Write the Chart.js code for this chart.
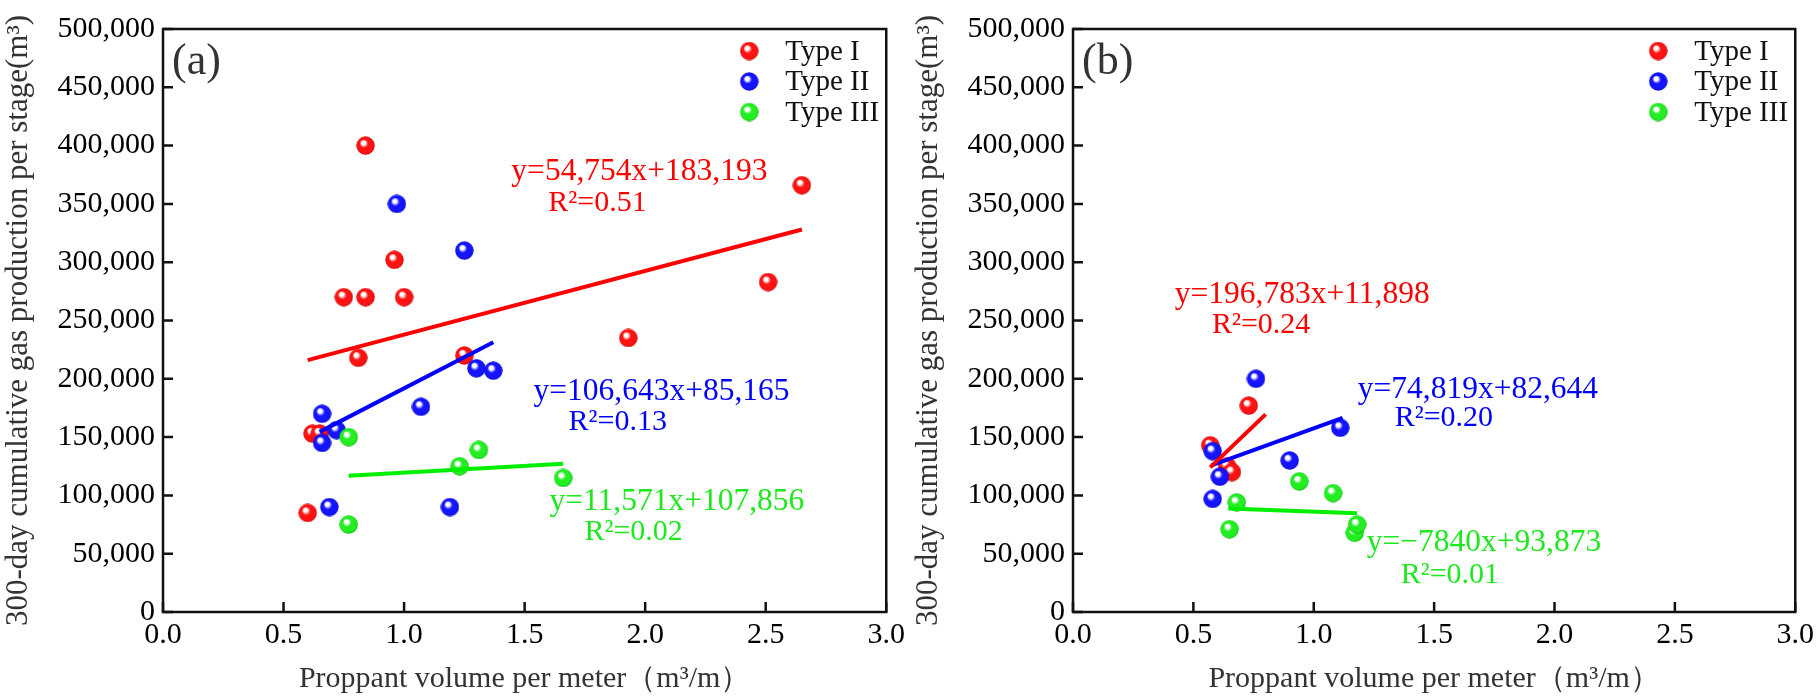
<!DOCTYPE html>
<html>
<head>
<meta charset="utf-8">
<script src="https://cdn.jsdelivr.net/npm/chart.js@4.4.1/dist/chart.umd.min.js"></script>
<style>
  html, body { margin: 0; padding: 0; background: #fff; }
  #wrap { position: relative; width: 1819px; height: 697px; background: #fff; }
  #wrap canvas { position: absolute; top: 0; }
  #chartA { left: 0; }
  #chartB { left: 910px; }
</style>
</head>
<body>
<div id="wrap">
  <canvas id="chartA" width="910" height="697"></canvas>
  <canvas id="chartB" width="909" height="697"></canvas>
</div>
<script>
// axis ticks
const xTicks = [0, 0.5, 1.0, 1.5, 2.0, 2.5, 3.0];
const yTicks = [0, 50000, 100000, 150000, 200000, 250000, 300000, 350000, 400000, 450000, 500000];
const typeNames = ['Type I', 'Type II', 'Type III'];

// panel (a)
const aTypeIX = [0.60, 0.62, 0.65, 0.75, 0.81, 0.84, 0.84, 0.96, 1.00, 1.25, 1.93, 2.51, 2.65];
const aTypeIY = [85000, 153000, 153000, 270000, 218000, 270000, 400000, 302000, 270000, 220000, 235000, 283000, 366000];
const aTypeIIX = [0.66, 0.66, 0.69, 0.72, 0.97, 1.07, 1.19, 1.25, 1.30, 1.37];
const aTypeIIY = [170000, 145000, 90000, 156000, 350000, 176000, 90000, 310000, 209000, 207000];
const aTypeIIIX = [0.77, 0.77, 1.23, 1.31, 1.66];
const aTypeIIIY = [150000, 75000, 125000, 139000, 115000];
// fitted lines, end points
const aFitIX = [0.60, 2.65];
const aFitIY = [216000, 328000];
const aFitIIX = [0.65, 1.37];
const aFitIIY = [154500, 231300];
const aFitIIIX = [0.77, 1.66];
const aFitIIIY = [116800, 127100];
const aEquations = ['y=54,754x+183,193', 'y=106,643x+85,165', 'y=11,571x+107,856'];
const aR2 = ['R²=0.51', 'R²=0.13', 'R²=0.02'];

// panel (b)
const bTypeIX = [0.57, 0.64, 0.66, 0.73];
const bTypeIY = [143000, 125000, 120000, 177000];
const bTypeIIX = [0.58, 0.58, 0.61, 0.76, 0.90, 1.11];
const bTypeIIY = [138000, 97000, 116000, 200000, 130000, 158000];
const bTypeIIIX = [0.65, 0.68, 0.94, 1.08, 1.17, 1.18];
const bTypeIIIY = [71000, 94000, 112000, 102000, 68000, 75000];
const bFitIX = [0.57, 0.80];
const bFitIY = [124000, 169500];
const bFitIIX = [0.575, 1.12];
const bFitIIY = [125700, 166400];
const bFitIIIX = [0.645, 1.18];
const bFitIIIY = [88800, 84600];
const bEquations = ['y=196,783x+11,898', 'y=74,819x+82,644', 'y=−7840x+93,873'];
const bR2 = ['R²=0.24', 'R²=0.20', 'R²=0.01'];

const xTitle = 'Proppant volume per meter（m³/m）';
const yTitle = '300-day cumulative gas production per stage(m³)';

// styling
const serif = '"Liberation Serif", "Times New Roman", serif';
const markColors = ['#ff1212', '#1414ff', '#22ee22'];
const markEdges = ['#b00000', '#0000a8', '#00a800'];
const lineColors = ['#ff0000', '#0000ff', '#00ee00'];
const textColors = ['#ff0000', '#0000ff', '#1ee81e'];

// shiny ball marker
function makeBall(base, edge) {
    const size = 19;
    const c = document.createElement('canvas');
    c.width = size;
    c.height = size;
    const g = c.getContext('2d');
    const r = size / 2;
    const grad = g.createRadialGradient(r - 2.6, r - 3.4, 0.4, r, r, r);
    grad.addColorStop(0, '#ffffff');
    grad.addColorStop(0.18, '#ffffff');
    grad.addColorStop(0.42, base);
    grad.addColorStop(0.85, base);
    grad.addColorStop(1, edge);
    g.fillStyle = grad;
    g.beginPath();
    g.arc(r, r, r - 0.3, 0, Math.PI * 2);
    g.fill();
    return c;
}
const balls = markColors.map((c, i) => makeBall(c, markEdges[i]));

const toPoints = (xs, ys) => xs.map((v, i) => ({ x: v, y: ys[i] }));

// frame, inward ticks, panel letter, fit labels, legend
const panelDecor = {
    id: 'panelDecor',
    afterDraw(chart, args, opts) {
        const { ctx, chartArea: area, scales: { x, y } } = chart;
        ctx.save();
        ctx.strokeStyle = '#111';
        ctx.lineWidth = 2.5;
        ctx.strokeRect(area.left, area.top, area.right - area.left, area.bottom - area.top);
        ctx.beginPath();
        x.ticks.forEach(t => {
            const px = x.getPixelForValue(t.value);
            ctx.moveTo(px, area.bottom);
            ctx.lineTo(px, area.bottom - 10);
        });
        y.ticks.forEach(t => {
            const py = y.getPixelForValue(t.value);
            ctx.moveTo(area.left, py);
            ctx.lineTo(area.left + 10, py);
        });
        ctx.stroke();

        ctx.textBaseline = 'middle';
        ctx.textAlign = 'left';
        ctx.fillStyle = '#333';
        ctx.font = '44px ' + serif;
        ctx.fillText(opts.letter, area.left + 9, area.top + 33);

        opts.labels.forEach((lab, i) => {
            ctx.fillStyle = textColors[i];
            ctx.font = '31.5px ' + serif;
            ctx.fillText(opts.equations[i], x.getPixelForValue(lab.eq[0]), y.getPixelForValue(lab.eq[1]));
            ctx.font = '30px ' + serif;
            ctx.fillText(opts.r2[i], x.getPixelForValue(lab.r2[0]), y.getPixelForValue(lab.r2[1]));
        });

        ctx.font = '29px ' + serif;
        ctx.fillStyle = '#111';
        chart.data.datasets.filter(d => d.legend).forEach((d, i) => {
            const cx = area.right - 137;
            const cy = area.top + 22 + i * 30.5;
            ctx.drawImage(d.pointStyle, cx - d.pointStyle.width / 2, cy - d.pointStyle.height / 2);
            ctx.fillText(d.label, cx + 36, cy + 1);
        });
        ctx.restore();
    }
};

function makeChart(id, rightPad, letter, sets, fits, equations, r2, labels) {
    const datasets = [];
    fits.forEach((f, i) => {
        datasets.push({
            type: 'scatter',
            label: typeNames[i] + ' fit',
            data: toPoints(f[0], f[1]),
            showLine: true,
            borderColor: lineColors[i],
            borderWidth: 4,
            pointRadius: 0,
            order: 0
        });
    });
    sets.forEach((s, i) => {
        datasets.push({
            label: typeNames[i],
            legend: true,
            data: toPoints(s[0], s[1]),
            pointStyle: balls[i],
            pointRadius: 9,
            order: 3 - i
        });
    });

    return new Chart(document.getElementById(id), {
        type: 'scatter',
        data: { datasets },
        plugins: [panelDecor],
        options: {
            responsive: false,
            animation: false,
            events: [],
            layout: { padding: { left: 0, top: 29, right: rightPad, bottom: 0 } },
            plugins: {
                legend: { display: false },
                tooltip: { enabled: false },
                panelDecor: { letter, equations, r2, labels }
            },
            scales: {
                x: {
                    type: 'linear',
                    min: 0,
                    max: 3,
                    afterBuildTicks: s => { s.ticks = xTicks.map(v => ({ value: v })); },
                    afterFit: s => { s.height = 85; },
                    grid: { display: false, drawTicks: false },
                    border: { display: false },
                    ticks: {
                        padding: 5,
                        color: '#000',
                        maxRotation: 0,
                        autoSkip: false,
                        font: { family: serif, size: 30 },
                        callback: v => v.toFixed(1)
                    },
                    title: {
                        display: true,
                        text: xTitle,
                        color: '#333',
                        padding: 0,
                        font: { family: serif, size: 30 }
                    }
                },
                y: {
                    type: 'linear',
                    min: 0,
                    max: 500000,
                    afterBuildTicks: s => { s.ticks = yTicks.map(v => ({ value: v })); },
                    afterFit: s => { s.width = 163; },
                    grid: { display: false, drawTicks: false },
                    border: { display: false },
                    ticks: {
                        padding: 8,
                        color: '#000',
                        autoSkip: false,
                        font: { family: serif, size: 30 },
                        callback: v => v.toLocaleString('en-US')
                    },
                    title: {
                        display: true,
                        text: yTitle,
                        color: '#333',
                        padding: 0,
                        font: { family: serif, size: 31 }
                    }
                }
            }
        }
    });
}

// where the fit labels sit, in data units (left edge, middle)
const aLabelPos = [
    { eq: [1.445, 377500], r2: [1.598, 350800] },
    { eq: [1.537, 188700], r2: [1.682, 162900] },
    { eq: [1.603, 94300], r2: [1.748, 68600] }
];
const bLabelPos = [
    { eq: [0.423, 271900], r2: [0.577, 246100] },
    { eq: [1.183, 190400], r2: [1.336, 166400] },
    { eq: [1.220, 59200], r2: [1.361, 31700] }
];

makeChart('chartA', 21, '(a)',
    [[aTypeIX, aTypeIY], [aTypeIIX, aTypeIIY], [aTypeIIIX, aTypeIIIY]],
    [[aFitIX, aFitIY], [aFitIIX, aFitIIY], [aFitIIIX, aFitIIIY]],
    aEquations, aR2, aLabelPos);

makeChart('chartB', 23, '(b)',
    [[bTypeIX, bTypeIY], [bTypeIIX, bTypeIIY], [bTypeIIIX, bTypeIIIY]],
    [[bFitIX, bFitIY], [bFitIIX, bFitIIY], [bFitIIIX, bFitIIIY]],
    bEquations, bR2, bLabelPos);
</script>
</body>
</html>
